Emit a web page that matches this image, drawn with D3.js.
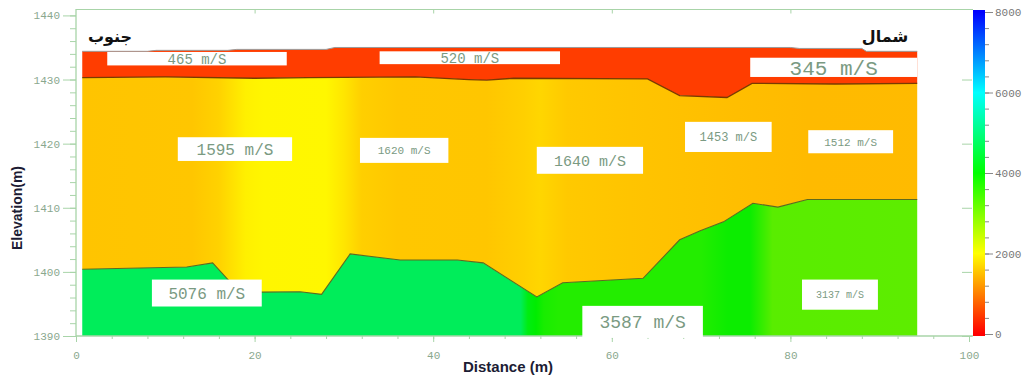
<!DOCTYPE html>
<html>
<head>
<meta charset="utf-8">
<script src="https://cdn.jsdelivr.net/npm/d3@7/dist/d3.min.js"></script>
<style>
  body { margin: 0; background: #fff; }
  svg { display: block; }
</style>
</head>
<body>
<svg id="chart" width="1033" height="376"></svg>
<script>
// axis ticks
const distTicks = [0, 20, 40, 60, 80, 100]
const elevTicks = [1390, 1400, 1410, 1420, 1430, 1440]
const velTicks = [0, 2000, 4000, 6000, 8000]

// ground surface
const surfaceDist = [0.7, 8, 9, 17, 18, 28, 29, 80, 81, 88, 88.5, 94.2]
const surfaceElev = [1434.4, 1434.4, 1434.55, 1434.55, 1434.7, 1434.7, 1435, 1435, 1434.85, 1434.85, 1434.4, 1434.4]

// layer 1 / layer 2 boundary
const b1Dist = [0.7, 10, 20, 26, 38, 44, 46, 49, 64, 67.6, 72.9, 75.7, 85, 94.2]
const b1Elev = [1430.3, 1430.4, 1430.2, 1430.3, 1430.4, 1430.0, 1429.9, 1430.2, 1430.1, 1427.5, 1427.2, 1429.4, 1429.3, 1429.4]

// layer 2 / layer 3 boundary
const b2Dist = [0.7, 12.4, 15.3, 17.6, 20.6, 25.1, 27.5, 30.7, 36.3, 42.7, 45.6, 51.6, 54.5, 63.5, 67.6, 69.9, 72.5, 75.8, 78.6, 81.9, 94.2]
const b2Elev = [1400.4, 1400.75, 1401.4, 1397.9, 1396.85, 1396.9, 1396.5, 1402.8, 1401.85, 1401.85, 1401.4, 1396.1, 1398.3, 1399.0, 1405.0, 1406.4, 1407.8, 1410.7, 1410.1, 1411.3, 1411.3]

// velocity field along each layer (m/s)
const v1Dist = [0, 100]
const v1Vel = [480, 480]
const v2Dist = [0, 13, 16, 19, 21, 28, 30, 32, 36, 46, 50, 52, 55, 62, 72, 82, 100]
const v2Vel = [1540, 1550, 1650, 1880, 1930, 1940, 1800, 1620, 1560, 1550, 1620, 1680, 1580, 1540, 1500, 1460, 1470]
const v3Dist = [0, 49.8, 50.6, 51.5, 52.4, 54, 70, 73, 75.5, 78, 100]
const v3Vel = [4760, 4760, 4150, 4000, 3800, 3700, 3700, 3900, 3900, 3250, 3200]

// velocity labels (box extents in metres)
const labelText = ['465 m/S', '520 m/S', '345 m/S', '1595 m/S', '1620 m/S', '1640 m/S', '1453 m/S', '1512 m/S', '5076 m/S', '3587 m/S', '3137 m/S']
const labelD0 = [3.5, 34.0, 75.5, 11.4, 31.8, 51.6, 68.2, 82.0, 8.5, 56.7, 81.3]
const labelD1 = [23.6, 54.2, 94.2, 24.2, 41.7, 63.5, 77.9, 91.5, 20.8, 70.2, 89.8]
const labelE0 = [1434.3, 1434.4, 1433.4, 1421.0, 1420.9, 1419.5, 1423.4, 1422.1, 1398.8, 1394.7, 1398.8]
const labelE1 = [1432.2, 1432.4, 1430.4, 1417.3, 1417.0, 1415.3, 1418.7, 1418.5, 1394.6, 1389.7, 1394.1]

// label styling
const labelFontPx = [14, 14, 21, 16, 11, 15, 12, 11, 16, 18, 10]
const labelColor = '#7a9a82'
const axisColor = '#a8d4a8'
const tickTextColor = '#8aa88e'

const svg = d3.select('#chart')
const defs = svg.append('defs')

const x = d3.scaleLinear().domain([0, 100]).range([76, 969])
const y = d3.scaleLinear().domain([1390, 1441]).range([336, 9])
const vScale = d3.scaleLinear().domain([0, 8000]).range([334, 12])
const color = d3.scaleLinear()
  .domain(velTicks)
  .range(['#ff0000', '#ffff00', '#00ff00', '#00ffff', '#0000ff'])

const zip = (ds, es) => ds.map((d, i) => [d, es[i]])
const surface = zip(surfaceDist, surfaceElev)
const b1 = zip(b1Dist, b1Elev)
const b2 = zip(b2Dist, b2Elev)
const last = b2Dist[b2Dist.length - 1]
const first = b2Dist[0]

const line = d3.line().x(d => x(d[0])).y(d => y(d[1]))

// horizontal gradient for each layer built from the velocity profile
function layerGradient (id, ds, vs, shade) {
  const g = defs.append('linearGradient')
    .attr('id', id)
    .attr('gradientUnits', 'userSpaceOnUse')
    .attr('x1', x(0)).attr('x2', x(100))
    .attr('y1', 0).attr('y2', 0)
  ds.forEach((d, i) => {
    g.append('stop')
      .attr('offset', d / 100)
      .attr('stop-color', d3.color(color(vs[i])).darker(shade).formatHex())
  })
}
layerGradient('g1', v1Dist, v1Vel, 0)
layerGradient('g2', v2Dist, v2Vel, 0)
layerGradient('g3', v3Dist, v3Vel, 0.2)

const layers = [
  { pts: surface.concat(b1.slice().reverse()), fill: 'url(#g1)' },
  { pts: b1.concat(b2.slice().reverse()), fill: 'url(#g2)' },
  { pts: b2.concat([[last, 1390], [first, 1390]]), fill: 'url(#g3)' }
]

svg.append('g').selectAll('path')
  .data(layers)
  .enter()
  .append('path')
  .attr('d', d => line(d.pts) + 'Z')
  .attr('fill', d => d.fill)
  .attr('stroke', 'none')

svg.append('path').attr('d', line(surface)).attr('fill', 'none').attr('stroke', '#9a9a9a').attr('stroke-width', 1)
svg.append('path').attr('d', line(b1)).attr('fill', 'none').attr('stroke', '#7a3a00').attr('stroke-width', 1.3)
svg.append('path').attr('d', line(b2)).attr('fill', 'none').attr('stroke', '#5f6a1e').attr('stroke-width', 1.1)

// =================== axes =================
const axes = svg.append('g')

// frame lines
axes.append('line').attr('x1', x(0)).attr('x2', 973).attr('y1', 9.5).attr('y2', 9.5).attr('stroke', axisColor)
axes.append('line').attr('x1', x(0)).attr('x2', 973).attr('y1', y(1390)).attr('y2', y(1390)).attr('stroke', axisColor).attr('stroke-width', 1.3)
axes.append('line').attr('x1', x(0)).attr('x2', x(0)).attr('y1', 9).attr('y2', y(1390)).attr('stroke', axisColor).attr('stroke-width', 1.3)

// left elevation axis
const yAxis = d3.axisLeft(y).tickValues(elevTicks).tickSize(13).tickPadding(3).tickFormat(d3.format('d'))
axes.append('g').attr('transform', `translate(${x(0)},0)`).call(yAxis)
const yMinor = d3.axisLeft(y).tickValues(d3.range(1390, 1441, 2)).tickSize(6).tickFormat('')
axes.append('g').attr('transform', `translate(${x(0)},0)`).call(yMinor)

// right elevation ticks (inward)
const yRight = d3.axisLeft(y).tickValues(elevTicks.slice(0, 5)).tickSize(10).tickFormat('')
axes.append('g').attr('transform', `translate(${x(100) + 3},0)`).call(yRight)

// bottom distance axis
const xAxis = d3.axisBottom(x).tickValues(distTicks).tickSize(6).tickPadding(9).tickFormat(d3.format('d'))
axes.append('g').attr('transform', `translate(0,${y(1390)})`).call(xAxis)
const xMinor = d3.axisBottom(x).tickValues(d3.range(0, 101, 4)).tickSize(3).tickFormat('')
axes.append('g').attr('transform', `translate(0,${y(1390)})`).call(xMinor)

// top ticks
const xTop = d3.axisBottom(x).tickValues(distTicks.slice(1, 5)).tickSize(4).tickFormat('')
axes.append('g').attr('transform', 'translate(0,9.5)').call(xTop)

axes.selectAll('.domain').remove()
axes.selectAll('.tick line').attr('stroke', axisColor)
axes.selectAll('.tick text')
  .attr('fill', tickTextColor)
  .style('font-family', '"Liberation Mono", monospace')
  .style('font-size', '11px')

// axis titles
svg.append('text')
  .text('Distance (m)')
  .attr('x', 508).attr('y', 372)
  .attr('text-anchor', 'middle')
  .style('font-family', '"Liberation Sans", Arial, sans-serif')
  .style('font-weight', 'bold')
  .style('font-size', '15px')
  .attr('fill', '#1c1c34')

svg.append('text')
  .text('Elevation(m)')
  .attr('transform', 'translate(22,208) rotate(-90)')
  .attr('text-anchor', 'middle')
  .style('font-family', '"Liberation Sans", Arial, sans-serif')
  .style('font-weight', 'bold')
  .style('font-size', '14px')
  .attr('fill', '#1c1c34')

// direction labels
svg.append('text').text('جنوب')
  .attr('x', 110).attr('y', 42).attr('text-anchor', 'middle')
  .style('font-family', '"DejaVu Sans", sans-serif').style('font-weight', 'bold').style('font-size', '16px')
  .attr('fill', '#111')
svg.append('text').text('شمال')
  .attr('x', 885).attr('y', 42).attr('text-anchor', 'middle')
  .style('font-family', '"DejaVu Sans", sans-serif').style('font-weight', 'bold').style('font-size', '16px')
  .attr('fill', '#111')

// =================== colour bar =================
const cb = defs.append('linearGradient')
  .attr('id', 'cb')
  .attr('gradientUnits', 'userSpaceOnUse')
  .attr('x1', 0).attr('x2', 0)
  .attr('y1', vScale(0)).attr('y2', vScale(8000))
velTicks.forEach(v => {
  cb.append('stop').attr('offset', v / 8000).attr('stop-color', color(v))
})
svg.append('rect')
  .attr('x', 973).attr('y', vScale(8000) - 2)
  .attr('width', 12).attr('height', vScale(0) - vScale(8000) + 4)
  .attr('fill', 'url(#cb)')

const vAxis = d3.axisRight(vScale).tickValues(velTicks).tickSize(8).tickPadding(2).tickFormat(d3.format('d'))
const vg = svg.append('g').attr('transform', 'translate(985,0)').call(vAxis)
const vMinor = d3.axisRight(vScale).tickValues(d3.range(0, 8001, 400)).tickSize(4).tickFormat('')
const vm = svg.append('g').attr('transform', 'translate(985,0)').call(vMinor)
;[vg, vm].forEach(g => {
  g.select('.domain').remove()
  g.selectAll('.tick line').attr('stroke', '#888')
})
vg.selectAll('.tick text')
  .attr('fill', '#777')
  .style('font-family', '"Liberation Mono", monospace')
  .style('font-size', '11px')

// =================== velocity labels =================
const lab = svg.append('g').selectAll('g')
  .data(labelText)
  .enter()
  .append('g')
lab.append('rect')
  .attr('x', (d, i) => x(labelD0[i]))
  .attr('y', (d, i) => y(labelE0[i]))
  .attr('width', (d, i) => x(labelD1[i]) - x(labelD0[i]))
  .attr('height', (d, i) => y(labelE1[i]) - y(labelE0[i]))
  .attr('fill', '#fff')
lab.append('text')
  .text(d => d)
  .attr('x', (d, i) => (x(labelD0[i]) + x(labelD1[i])) / 2)
  .attr('y', (d, i) => (y(labelE0[i]) + y(labelE1[i])) / 2)
  .attr('dy', '0.35em')
  .attr('text-anchor', 'middle')
  .attr('fill', labelColor)
  .style('font-family', '"Liberation Mono", "Courier New", monospace')
  .style('font-size', (d, i) => labelFontPx[i] + 'px')
</script>
</body>
</html>
